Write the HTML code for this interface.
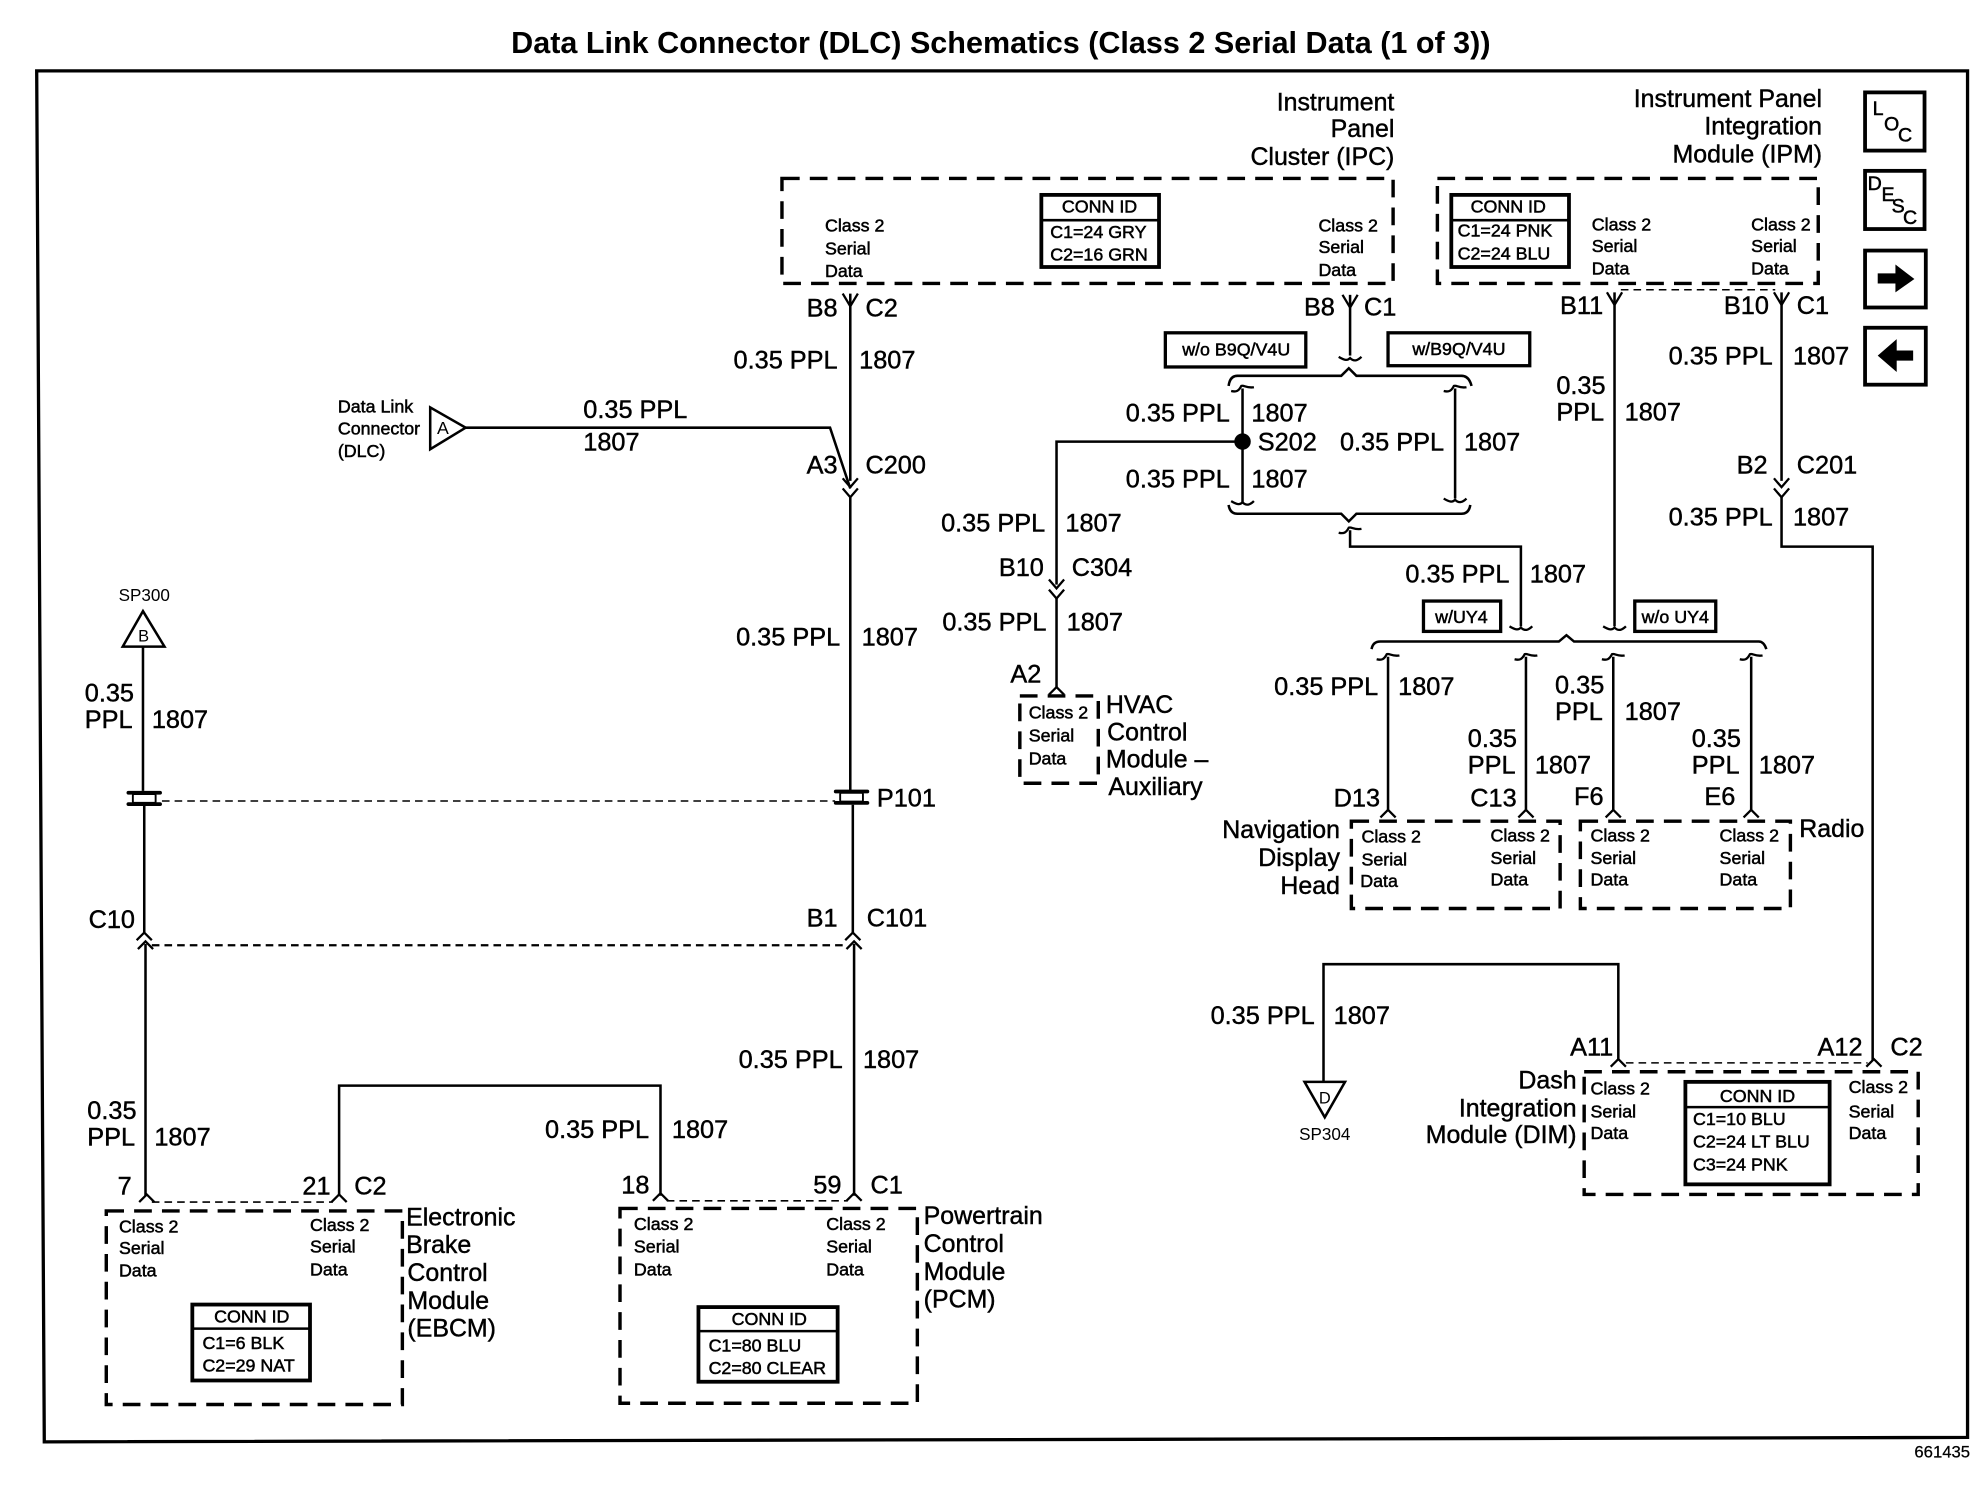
<!DOCTYPE html>
<html>
<head>
<meta charset="utf-8">
<title>Data Link Connector (DLC) Schematics</title>
<style>
html,body{margin:0;padding:0;background:#fff}
svg{display:block}
text{font-family:"Liberation Sans",Arial,sans-serif;fill:#000}
.w{font-size:20px;stroke:#000;stroke-width:.35px}
.l{font-size:19.7px;stroke:#000;stroke-width:.35px}
.s{font-size:14.1px;stroke:#000;stroke-width:.4px}
.e{text-anchor:end}
.m{text-anchor:middle}
.wire{fill:none;stroke:#000;stroke-width:2}
.box{fill:none;stroke:#000;stroke-width:2.7;stroke-dasharray:14 8}
.dash{fill:none;stroke:#000;stroke-width:1.2;stroke-dasharray:6 4}
</style>
</head>
<body>
<svg xmlns="http://www.w3.org/2000/svg" width="1984" height="1504" viewBox="0 0 1568 1188.6">
<defs>
<path id="y" d="M-6,-10 L0,0 L6,-10" fill="none" stroke="#000" stroke-width="1.8"/>
<path id="c" d="M-6,6 L0,0 L6,6" fill="none" stroke="#000" stroke-width="1.8"/>
<path id="v" d="M-6,-7 L0,0 L6,-7" fill="none" stroke="#000" stroke-width="1.8"/>
<path id="tu" d="M-9,2 C-5,3 -3,2 -1,-2 C1,-3 3,0 9,-1" fill="none" stroke="#000" stroke-width="1.8"/>
<path id="td" d="M-9,0 C-4,3 -2,3 0,1 C3,4 6,3 9,0" fill="none" stroke="#000" stroke-width="1.8"/>
<g id="p">
<rect x="-14" y="-6" width="28" height="3" rx="1.5" fill="#000"/>
<rect x="-14" y="3" width="28" height="3" rx="1.5" fill="#000"/>
<rect x="-9" y="-3.5" width="18" height="7" rx="1" fill="#fff" stroke="#000" stroke-width="1.5"/>
</g>
</defs>

<!-- title and frame -->
<text x="404" y="42" font-size="24" font-weight="bold" textLength="774" lengthAdjust="spacingAndGlyphs">Data Link Connector (DLC) Schematics (Class 2 Serial Data (1 of 3))</text>
<path d="M29,56 H1555 V1136 L35,1139.5 L29,56 Z" fill="none" stroke="#000" stroke-width="2.6"/>
<text x="1557" y="1152" class="e" font-size="13.2" stroke="#000" stroke-width=".2">661435</text>

<!-- dashed module boxes -->
<rect class="box" x="618" y="141" width="483" height="83"/>
<rect class="box" x="1136" y="141" width="301" height="83"/>
<rect class="box" x="806" y="550" width="62" height="69"/>
<rect class="box" x="1068" y="649" width="165" height="69"/>
<rect class="box" x="1249" y="649" width="166" height="69"/>
<rect class="box" x="1252" y="847" width="264" height="97"/>
<rect class="box" x="84" y="957" width="234" height="153"/>
<rect class="box" x="490" y="955" width="235" height="154"/>

<!-- conn id boxes -->
<g fill="none" stroke="#000">
<rect x="823" y="154" width="93" height="57" stroke-width="3"/><path d="M823,174H916" stroke-width="2"/>
<rect x="1147" y="154" width="93" height="57" stroke-width="3"/><path d="M1147,174H1240" stroke-width="2"/>
<rect x="1332" y="855" width="114" height="81" stroke-width="3"/><path d="M1332,875H1446" stroke-width="2"/>
<rect x="152" y="1031" width="93" height="60" stroke-width="3"/><path d="M152,1050H245" stroke-width="2"/>
<rect x="552" y="1033" width="110" height="59" stroke-width="3"/><path d="M552,1052H662" stroke-width="2"/>
</g>

<!-- wires -->
<path class="wire" d="M672,232V380M672,392V625M674,636V738M675,746V945"/>
<path class="wire" d="M368,338H656L672,386"/>
<path class="wire" d="M1067,233V281"/>
<path class="wire" d="M971,305Q972,297 978,297H1060L1066,291L1072,297H1155Q1161,297 1163,305"/>
<path class="wire" d="M982,307V397M1150,307V394"/>
<path class="wire" d="M971,399Q972,406 978,406H1060L1066,412L1072,406H1155Q1161,406 1162,399"/>
<path class="wire" d="M1067,419V432H1202V495"/>
<path class="wire" d="M1276,231V495"/>
<path class="wire" d="M1084,513Q1085,507 1091,507H1232L1238,502L1244,507H1390Q1394,507 1396,513"/>
<path class="wire" d="M1097,519V641M1206,519V641M1275,519V641M1384,519V641"/>
<path class="wire" d="M1408,231V380M1408,392V432H1480V838"/>
<path class="wire" d="M1279,838V762H1046V855"/>
<path class="wire" d="M982,349H835V462M835,472V543"/>
<path class="wire" d="M113,511V625M114,637V738M115,746V945"/>
<path class="wire" d="M268,945V858H522V945"/>
<circle cx="982" cy="349" r="6.5" fill="#000"/>

<!-- thin dashes -->
<path class="dash" d="M128,633H660"/>
<path class="dash" d="M120,747H668" style="stroke-width:1.8"/>
<path class="dash" d="M1281,229H1403"/>
<path class="dash" d="M120,950H263"/>
<path class="dash" d="M527,949H670"/>
<path class="dash" d="M1285,840H1476"/>

<!-- connector glyphs -->
<use href="#y" x="672" y="242"/><use href="#y" x="1067" y="243"/>
<use href="#y" x="1276" y="241"/><use href="#y" x="1408" y="241"/>
<use href="#v" x="672" y="385"/><use href="#v" x="672" y="393"/>
<use href="#v" x="1408" y="385"/><use href="#v" x="1408" y="393"/>
<use href="#v" x="835" y="465"/><use href="#v" x="835" y="473"/>
<use href="#c" x="114" y="737"/><use href="#c" x="115" y="744"/>
<use href="#c" x="674" y="737"/><use href="#c" x="675" y="744"/>
<use href="#c" x="116" y="944"/><use href="#c" x="268" y="944"/>
<use href="#c" x="522" y="943"/><use href="#c" x="675" y="943"/>
<use href="#c" x="1097" y="640"/><use href="#c" x="1206" y="640"/>
<use href="#c" x="1275" y="640"/><use href="#c" x="1384" y="640"/>
<use href="#c" x="1279" y="837"/><use href="#c" x="1481" y="837"/>
<use href="#c" x="835" y="543"/>
<use href="#td" x="1067" y="282"/><use href="#tu" x="982" y="307"/><use href="#tu" x="1150" y="307"/>
<use href="#td" x="982" y="396"/><use href="#td" x="1150" y="394"/>
<use href="#tu" x="1067" y="419"/><use href="#td" x="1202" y="495"/><use href="#td" x="1276" y="495"/>
<use href="#tu" x="1097" y="519"/><use href="#tu" x="1206" y="519"/><use href="#tu" x="1275" y="519"/><use href="#tu" x="1384" y="519"/>
<use href="#p" x="114" y="631"/><use href="#p" x="673" y="630"/>

<!-- triangles -->
<polygon points="340,322 340,355 368,338" fill="#fff" stroke="#000" stroke-width="2"/>
<polygon points="97,511 130,511 113,483" fill="#fff" stroke="#000" stroke-width="2"/>
<polygon points="1031,855 1063,855 1047,883" fill="#fff" stroke="#000" stroke-width="2"/>
<text x="350" y="343" class="m" font-size="14">A</text>
<text x="113.5" y="507" class="m" font-size="13">B</text>
<text x="1047" y="872" class="m" font-size="13">D</text>
<text x="114" y="475" class="m" font-size="13.5">SP300</text>
<text x="1047" y="901" class="m" font-size="13.5">SP304</text>
<text class="s" x="267" y="326">Data Link</text><text class="s" x="267" y="343.5">Connector</text><text class="s" x="267" y="361">(DLC)</text>

<!-- nav buttons -->
<g fill="#fff" stroke="#000" stroke-width="3">
<rect x="1474" y="73" width="47" height="46"/>
<rect x="1474" y="135" width="47" height="46"/>
<rect x="1474" y="198" width="48" height="45"/>
<rect x="1474" y="259" width="48" height="45"/>
</g>
<g font-size="15.5" stroke="#000" stroke-width=".4">
<text x="1480" y="91">L</text><text x="1489" y="103">O</text><text x="1500" y="112">C</text>
<text x="1476" y="150">D</text><text x="1487" y="159">E</text><text x="1495" y="168">S</text><text x="1504" y="177">C</text>
</g>
<polygon points="1484,216 1498,216 1498,209 1513,220.5 1498,231 1498,224 1484,224" fill="#000"/>
<polygon points="1512,277 1499,277 1499,268 1484,281 1499,294 1499,285 1512,285" fill="#000"/>

<!-- w/o boxes -->
<g fill="none" stroke="#000" stroke-width="2.6">
<rect x="921" y="263" width="111" height="27"/>
<rect x="1097" y="263" width="112" height="26"/>
<rect x="1125" y="475" width="61" height="24"/>
<rect x="1292" y="475" width="64" height="24"/>
</g>
<text class="s m" x="977" y="281">w/o B9Q/V4U</text>
<text class="s m" x="1153" y="280.500">w/B9Q/V4U</text>
<text class="s m" x="1155" y="492.500">w/UY4</text>
<text class="s m" x="1324" y="492.500">w/o UY4</text>

<!-- module names -->
<g transform="translate(0,-0.6)">
<text class="l e" x="1102" y="88">Instrument</text><text class="l e" x="1102" y="109">Panel</text><text class="l e" x="1102" y="131">Cluster (IPC)</text>
<text class="l e" x="1440" y="85">Instrument Panel</text><text class="l e" x="1440" y="107">Integration</text><text class="l e" x="1440" y="129">Module (IPM)</text>
<text class="l" x="874" y="564">HVAC</text><text class="l" x="875" y="586">Control</text><text class="l" x="874" y="607">Module –</text><text class="l" x="876" y="629">Auxiliary</text>
<text class="l e" x="1059" y="663">Navigation</text><text class="l e" x="1059" y="685">Display</text><text class="l e" x="1059" y="707">Head</text>
<text class="l" x="1422" y="662">Radio</text>
<text class="l e" x="1246" y="861">Dash</text><text class="l e" x="1246" y="883">Integration</text><text class="l e" x="1246" y="904">Module (DIM)</text>
<text class="l" x="321" y="969">Electronic</text><text class="l" x="321" y="991">Brake</text><text class="l" x="322" y="1013">Control</text><text class="l" x="322" y="1035">Module</text><text class="l" x="322" y="1057">(EBCM)</text>
<text class="l" x="730" y="968">Powertrain</text><text class="l" x="730" y="990">Control</text><text class="l" x="730" y="1012">Module</text><text class="l" x="730" y="1034">(PCM)</text>
</g>

<!-- class 2 serial data -->
<text class="s" x="652" y="183">Class 2</text><text class="s" x="652" y="201">Serial</text><text class="s" x="652" y="219">Data</text>
<text class="s" x="1042" y="183">Class 2</text><text class="s" x="1042" y="200">Serial</text><text class="s" x="1042" y="218">Data</text>
<text class="s" x="1258" y="182">Class 2</text><text class="s" x="1258" y="199">Serial</text><text class="s" x="1258" y="217">Data</text>
<text class="s" x="1384" y="182">Class 2</text><text class="s" x="1384" y="199">Serial</text><text class="s" x="1384" y="217">Data</text>
<text class="s" x="813" y="568">Class 2</text><text class="s" x="813" y="586">Serial</text><text class="s" x="813" y="604">Data</text>
<text class="s" x="1076" y="666">Class 2</text><text class="s" x="1076" y="684">Serial</text><text class="s" x="1075" y="701">Data</text>
<text class="s" x="1178" y="665">Class 2</text><text class="s" x="1178" y="683">Serial</text><text class="s" x="1178" y="700">Data</text>
<text class="s" x="1257" y="665">Class 2</text><text class="s" x="1257" y="683">Serial</text><text class="s" x="1257" y="700">Data</text>
<text class="s" x="1359" y="665">Class 2</text><text class="s" x="1359" y="683">Serial</text><text class="s" x="1359" y="700">Data</text>
<text class="s" x="1257" y="865">Class 2</text><text class="s" x="1257" y="883">Serial</text><text class="s" x="1257" y="900">Data</text>
<text class="s" x="1461" y="864">Class 2</text><text class="s" x="1461" y="883">Serial</text><text class="s" x="1461" y="900">Data</text>
<text class="s" x="94" y="974">Class 2</text><text class="s" x="94" y="991">Serial</text><text class="s" x="94" y="1009">Data</text>
<text class="s" x="245" y="973">Class 2</text><text class="s" x="245" y="990">Serial</text><text class="s" x="245" y="1008">Data</text>
<text class="s" x="501" y="972">Class 2</text><text class="s" x="501" y="990">Serial</text><text class="s" x="501" y="1008">Data</text>
<text class="s" x="653" y="972">Class 2</text><text class="s" x="653" y="990">Serial</text><text class="s" x="653" y="1008">Data</text>

<!-- conn id text -->
<text class="s m" x="869" y="168">CONN ID</text><text class="s" x="830" y="188">C1=24 GRY</text><text class="s" x="830" y="206">C2=16 GRN</text>
<text class="s m" x="1192" y="168">CONN ID</text><text class="s" x="1152" y="187">C1=24 PNK</text><text class="s" x="1152" y="205">C2=24 BLU</text>
<text class="s m" x="1389" y="871">CONN ID</text><text class="s" x="1338" y="889">C1=10 BLU</text><text class="s" x="1338" y="907">C2=24 LT BLU</text><text class="s" x="1338" y="925">C3=24 PNK</text>
<text class="s m" x="199" y="1045">CONN ID</text><text class="s" x="160" y="1066">C1=6 BLK</text><text class="s" x="160" y="1084">C2=29 NAT</text>
<text class="s m" x="608" y="1047">CONN ID</text><text class="s" x="560" y="1068">C1=80 BLU</text><text class="s" x="560" y="1086">C2=80 CLEAR</text>

<!-- wire labels -->
<g transform="translate(0,-0.8)">
<text class="w e" x="662" y="251">B8</text><text class="w" x="684" y="251">C2</text>
<text class="w e" x="662" y="292">0.35 PPL</text><text class="w" x="679" y="292">1807</text>
<text class="w" x="461" y="331">0.35 PPL</text><text class="w" x="461" y="357">1807</text>
<text class="w e" x="662" y="375">A3</text><text class="w" x="684" y="375">C200</text>
<text class="w e" x="664" y="511">0.35 PPL</text><text class="w" x="681" y="511">1807</text>
<text class="w" x="693" y="638">P101</text>
<text class="w e" x="662" y="733">B1</text><text class="w" x="685" y="733">C101</text>
<text class="w e" x="666" y="845">0.35 PPL</text><text class="w" x="682" y="845">1807</text>
<text class="w e" x="513" y="900">0.35 PPL</text><text class="w" x="531" y="900">1807</text>
<text class="w" x="491" y="944">18</text><text class="w e" x="665" y="944">59</text><text class="w" x="688" y="944">C1</text>
<text class="w" x="93" y="945">7</text><text class="w" x="239" y="945">21</text><text class="w" x="280" y="945">C2</text>
<text class="w" x="69" y="885">0.35</text><text class="w" x="69" y="906">PPL</text><text class="w" x="122" y="906">1807</text>
<text class="w" x="70" y="734">C10</text>
<text class="w" x="67" y="555">0.35</text><text class="w" x="67" y="576">PPL</text><text class="w" x="120" y="576">1807</text>
<text class="w e" x="1055" y="250">B8</text><text class="w" x="1078" y="250">C1</text>
<text class="w e" x="972" y="334">0.35 PPL</text><text class="w" x="989" y="334">1807</text>
<text class="w" x="994" y="357">S202</text>
<text class="w" x="1059" y="357">0.35 PPL</text><text class="w" x="1157" y="357">1807</text>
<text class="w e" x="972" y="386">0.35 PPL</text><text class="w" x="989" y="386">1807</text>
<text class="w e" x="826" y="421">0.35 PPL</text><text class="w" x="842" y="421">1807</text>
<text class="w e" x="825" y="456">B10</text><text class="w" x="847" y="456">C304</text>
<text class="w e" x="827" y="499">0.35 PPL</text><text class="w" x="843" y="499">1807</text>
<text class="w e" x="823" y="540">A2</text>
<text class="w e" x="1267" y="249">B11</text><text class="w e" x="1398" y="249">B10</text><text class="w" x="1420" y="249">C1</text>
<text class="w" x="1230" y="312">0.35</text><text class="w" x="1230" y="333">PPL</text><text class="w" x="1284" y="333">1807</text>
<text class="w e" x="1401" y="289">0.35 PPL</text><text class="w" x="1417" y="289">1807</text>
<text class="w e" x="1397" y="375">B2</text><text class="w" x="1420" y="375">C201</text>
<text class="w e" x="1401" y="416">0.35 PPL</text><text class="w" x="1417" y="416">1807</text>
<text class="w e" x="1193" y="461">0.35 PPL</text><text class="w" x="1209" y="461">1807</text>
<text class="w" x="1007" y="550">0.35 PPL</text><text class="w" x="1105" y="550">1807</text>
<text class="w" x="1160" y="591">0.35</text><text class="w" x="1160" y="612">PPL</text><text class="w" x="1213" y="612">1807</text>
<text class="w" x="1229" y="549">0.35</text><text class="w" x="1229" y="570">PPL</text><text class="w" x="1284" y="570">1807</text>
<text class="w" x="1337" y="591">0.35</text><text class="w" x="1337" y="612">PPL</text><text class="w" x="1390" y="612">1807</text>
<text class="w" x="1054" y="638">D13</text><text class="w" x="1162" y="638">C13</text><text class="w" x="1244" y="637">F6</text><text class="w" x="1347" y="637">E6</text>
<text class="w e" x="1039" y="810">0.35 PPL</text><text class="w" x="1054" y="810">1807</text>
<text class="w e" x="1275" y="835">A11</text><text class="w e" x="1472" y="835">A12</text><text class="w" x="1494" y="835">C2</text>
</g>
</svg>
</body>
</html>
